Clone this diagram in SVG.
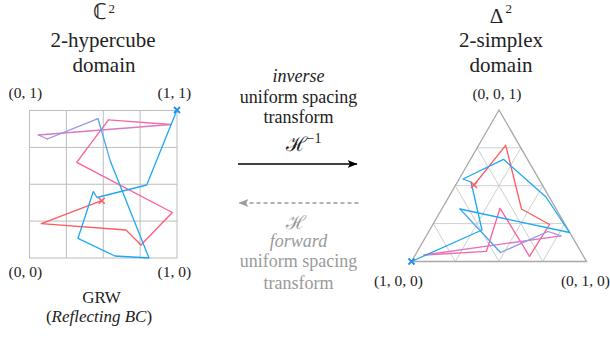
<svg xmlns="http://www.w3.org/2000/svg" width="610" height="337" viewBox="0 0 610 337" font-family="'Liberation Serif', 'Times New Roman', serif">
<defs>
<style>
text{fill:#222}
.h{font-size:21px;text-anchor:middle}
.sup{font-size:13px}
.lab{font-size:15.5px}
.mid{font-size:18px;text-anchor:middle}
.it{font-style:italic}
.gray{fill:#9a9a9a}
.grid{stroke:#bdbdbd;stroke-width:1;fill:none}
.tgrid{stroke:#cfcfcf;stroke-width:1;fill:none}
.tri{stroke:#a8a8a8;stroke-width:1.3;fill:none}
.w{fill:none;stroke-width:1.3;stroke-linejoin:round;stroke-linecap:round}
.c0{stroke:#ff5a5f}.c1{stroke:#ff5a7e}.c2{stroke:#ff5c9e}.c3{stroke:#f567ad}.c4{stroke:#dc78c2}
.c5{stroke:#b88ad8}.c6{stroke:#8f98e2}.c7{stroke:#4ba6ee}.c8{stroke:#1fa8f2}
.xr{stroke:#ff5a5f;stroke-width:1.6}
.xb{stroke:#1f8ff0;stroke-width:1.8}
</style>
<marker id="ah" viewBox="0 0 10 8" refX="9.5" refY="4" markerWidth="10" markerHeight="8" markerUnits="userSpaceOnUse" orient="auto">
<path d="M0,0 L10,4 L0,8 L2.5,4 Z" fill="#000"/>
</marker>
<marker id="ahg" viewBox="0 0 10 8" refX="9.5" refY="4" markerWidth="10" markerHeight="8" markerUnits="userSpaceOnUse" orient="auto">
<path d="M0,0 L10,4 L0,8 L2.5,4 Z" fill="#9a9a9a"/>
</marker>
</defs>
<rect width="610" height="337" fill="#fff"/>

<g id="cube" font-family="'Liberation Serif', serif">
<text class="h" x="100" y="19" style="font-size:22px">ℂ</text>
<text class="sup" x="108.5" y="12.5">2</text>
<text class="h" x="103" y="46.5">2-hypercube</text>
<text class="h" x="104" y="71.5">domain</text>
<g class="grid">
<rect x="29.5" y="110.5" width="147.5" height="147.5"/>
<path d="M66.4,110.5V258M103.25,110.5V258M140.1,110.5V258M29.5,147.4H177M29.5,184.25H177M29.5,221.1H177"/>
</g>
<text class="lab" x="8.5" y="98">(0, 1)</text>
<text class="lab" x="157.5" y="98">(1, 1)</text>
<text class="lab" x="8.5" y="277">(0, 0)</text>
<text class="lab" x="157.5" y="277">(1, 0)</text>
<g class="w">
<polyline class="c0" points="101.7,200.7 41.3,223.7 126,230 141,245"/>
<polyline class="c1" points="141,245 172.3,212.5"/>
<polyline class="c2" points="172.3,212.5 76.7,162.3 108.5,119.8"/>
<polyline class="c3" points="108.5,119.8 171,124.5"/>
<polyline class="c4" points="171,124.5 38.3,135"/>
<polyline class="c5" points="38.3,135 47.3,139"/>
<polyline class="c6" points="47.3,139 98,118.7"/>
<polyline class="c7" points="98,118.7 110.5,161.6"/>
<polyline class="c8" points="110.5,161.6 149,258 115,256 78,238.3 93.3,191.5 97,197.5 146.7,185 177,110"/>
</g>
<path class="xr" d="M98.7,197.7l6,6M104.7,197.7l-6,6"/>
<path class="xb" d="M174,107l6,6M180,107l-6,6"/>
<text x="101.5" y="303" style="font-size:17px;text-anchor:middle">GRW</text>
<text x="99" y="322" style="font-size:17px;text-anchor:middle">(<tspan class="it">Reflecting BC</tspan>)</text>
</g>

<g id="simplex" font-family="'Liberation Serif', serif">
<text class="h" x="496.5" y="22.5">Δ</text>
<text class="sup" x="505.5" y="13">2</text>
<text class="h" x="501" y="46.5">2-simplex</text>
<text class="h" x="501" y="71.5">domain</text>
<g class="tgrid">
<path d="M433.4,223.6H564.6M455.25,185.7H542.75M477.1,147.8H520.9"/>
<path d="M455.25,261.5L520.9,147.8M499,261.5L542.75,185.7M542.75,261.5L564.6,223.6"/>
<path d="M455.25,261.5L433.4,223.6M499,261.5L455.25,185.7M542.75,261.5L477.1,147.8"/>
</g>
<path class="tri" d="M499,110L586.5,261.5H411.5Z"/>
<text class="lab" x="497" y="99" text-anchor="middle">(0, 0, 1)</text>
<text class="lab" x="398.5" y="285.5" text-anchor="middle">(1, 0, 0)</text>
<text class="lab" x="585.5" y="285.5" text-anchor="middle">(0, 1, 0)</text>
<g class="w">
<polyline class="c0" points="474,185 505.7,145.3 521.5,209 549.5,224.5"/>
<polyline class="c1" points="549.5,224.5 529.5,256.3"/>
<polyline class="c2" points="529.5,256.3 500,208.3 486.5,251.3"/>
<polyline class="c3" points="486.5,251.3 424,255"/>
<polyline class="c4" points="424,255 561,235.8"/>
<polyline class="c5" points="561,235.8 548,231.5"/>
<polyline class="c6" points="548,231.5 500.5,252.5"/>
<polyline class="c7" points="500.5,252.5 460,209"/>
<polyline class="c8" points="460,209 569.5,232.5 546,197 503.5,159.3 463,179 471,182 482,230 411.5,261.5"/>
</g>
<path class="xr" d="M471,182l6,6M477,182l-6,6"/>
<path class="xb" d="M408.5,258.5l6,6M414.5,258.5l-6,6"/>
</g>

<g id="transform-labels" font-family="'Liberation Serif', serif">
<text class="mid it" x="298.5" y="82">inverse</text>
<text class="mid" x="298.5" y="102.5">uniform spacing</text>
<text class="mid" x="298.5" y="123">transform</text>
<text x="296" y="151" font-family="'DejaVu Serif', serif" style="font-size:20px;text-anchor:middle">ℋ</text>
<text x="306.5" y="143" style="font-size:14px">−1</text>
<text class="gray" x="296" y="228.5" font-family="'DejaVu Serif', serif" style="font-size:19px;text-anchor:middle">ℋ</text>
<text class="mid it gray" x="298.5" y="246.5">forward</text>
<text class="mid gray" x="298.5" y="267">uniform spacing</text>
<text class="mid gray" x="298.5" y="289">transform</text>
</g>

<g id="connectors">
<line x1="238" y1="164" x2="357" y2="164" stroke="#000" stroke-width="1.5" marker-end="url(#ah)"/>
<line x1="358.5" y1="203" x2="239" y2="203" stroke="#9a9a9a" stroke-width="1.5" stroke-dasharray="4,3" marker-end="url(#ahg)"/>
</g>
</svg>
